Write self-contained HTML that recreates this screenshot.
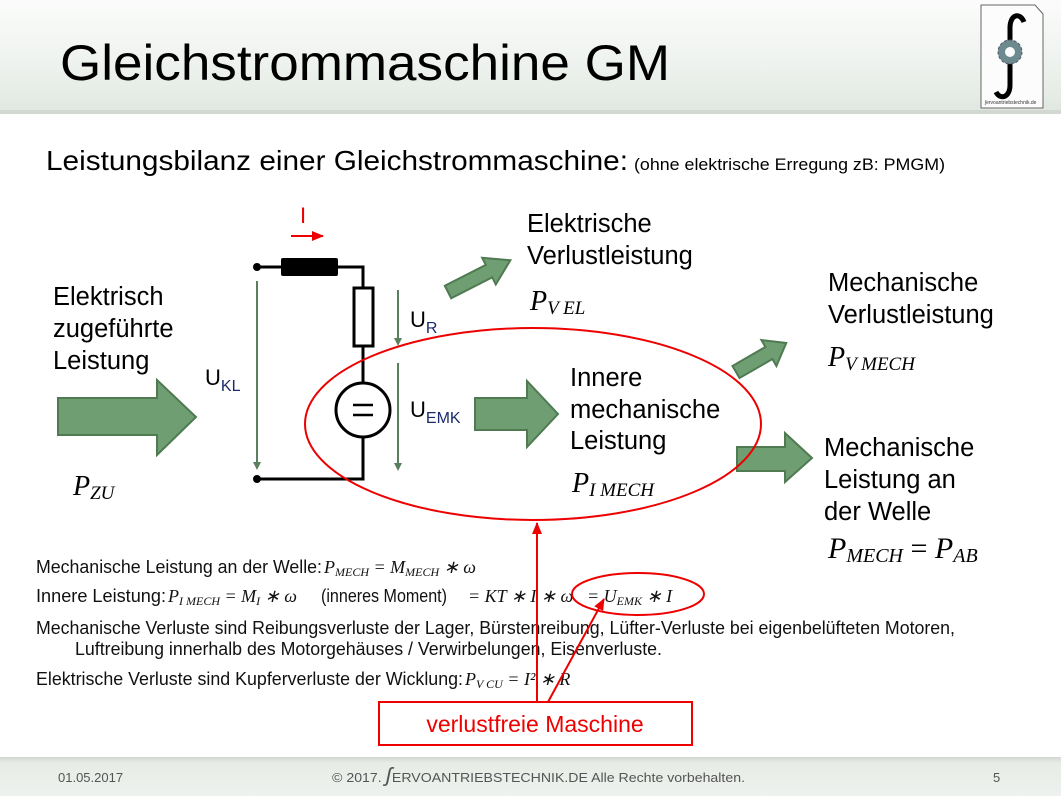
<!DOCTYPE html>
<html><head><meta charset="utf-8"><style>
body{margin:0;width:1061px;height:796px;overflow:hidden;background:#fff;font-family:"Liberation Sans",sans-serif}
</style></head><body>
<svg width="1061" height="796" viewBox="0 0 1061 796" xmlns="http://www.w3.org/2000/svg" font-family="Liberation Sans, sans-serif">
<defs>
<linearGradient id="hd" x1="0" y1="0" x2="0" y2="1"><stop offset="0" stop-color="#fbfcfb"/><stop offset="0.6" stop-color="#eef2ee"/><stop offset="1" stop-color="#e1e8e1"/></linearGradient>
<linearGradient id="ft" x1="0" y1="0" x2="0" y2="1"><stop offset="0" stop-color="#d0d6d0"/><stop offset="0.15" stop-color="#e7ece7"/><stop offset="1" stop-color="#eef2ee"/></linearGradient>
<marker id="ga" markerWidth="8" markerHeight="8" refX="6" refY="4" orient="auto" markerUnits="userSpaceOnUse"><path d="M0,0 L8,4 L0,8 z" fill="#5a7f5c"/></marker>
<marker id="ra" markerWidth="12" markerHeight="10" refX="11" refY="5" orient="auto" markerUnits="userSpaceOnUse"><path d="M0,0 L12,5 L0,10 z" fill="#e00"/></marker>
</defs>
<rect x="0" y="0" width="1061" height="110" fill="url(#hd)"/>
<rect x="0" y="110" width="1061" height="4" fill="#d3d8d3"/>
<rect x="0" y="757" width="1061" height="39" fill="url(#ft)"/>
<text x="60" y="80" font-size="50" fill="#000" textLength="610" lengthAdjust="spacingAndGlyphs">Gleichstrommaschine GM</text>
<!-- logo -->
<path d="M981,5 L1035,5 L1043,14 L1043,108 L981,108 z" fill="#fbfcfb" stroke="#666" stroke-width="1"/>
<path d="M1024,22 C1020,12 1010,14 1010,28 L1010,85 C1010,98 1000,100 996,92" fill="none" stroke="#000" stroke-width="5"/>
<circle cx="1010" cy="52" r="12" fill="#6d8a8f" stroke="#556" stroke-width="1" stroke-dasharray="3,2"/>
<circle cx="1010" cy="52" r="5" fill="#fbfcfb"/>
<text x="985" y="104" font-size="5" fill="#333">ʃervoantriebstechnik.de</text>

<text x="46" y="170" font-size="28" fill="#000" textLength="582" lengthAdjust="spacingAndGlyphs">Leistungsbilanz einer Gleichstrommaschine:</text>
<text x="634" y="170" font-size="17" fill="#000" textLength="311" lengthAdjust="spacingAndGlyphs">(ohne elektrische Erregung zB: PMGM)</text>

<!-- big left arrow -->
<polygon points="58,398 157,398 157,380 196,417 157,455 157,435 58,435" fill="#6e9e72" stroke="#4f7a52" stroke-width="2"/>
<text font-size="25.5" fill="#000"><tspan x="53" y="305">Elektrisch</tspan><tspan x="53" y="337">zugeführte</tspan><tspan x="53" y="369">Leistung</tspan></text>
<text x="73" y="495" font-size="28" font-style="italic" font-family="Liberation Serif, serif">P<tspan font-size="19" dy="4">ZU</tspan></text>

<!-- circuit -->
<g stroke="#000" stroke-width="3" fill="none">
<path d="M257,267 L281,267 M338,267 L363,267 L363,288 M363,346 L363,383 M363,437 L363,479 L257,479"/>
<rect x="354" y="288" width="19" height="58" fill="#fff"/>
<circle cx="363" cy="410" r="27" fill="#fff"/>
<path d="M353,405 L373,405 M353,415 L373,415" stroke-width="2.5"/>
</g>
<rect x="281" y="258" width="57" height="18" rx="2" fill="#000"/>
<circle cx="257" cy="267" r="4" fill="#000"/><circle cx="257" cy="479" r="4" fill="#000"/>
<g stroke="#5a7f5c" stroke-width="2" marker-end="url(#ga)">
<line x1="257" y1="281" x2="257" y2="468"/>
<line x1="398" y1="290" x2="398" y2="344"/>
<line x1="398" y1="363" x2="398" y2="469"/>
</g>
<text x="300" y="223" font-size="22" fill="#e00">I</text>
<line x1="291" y1="236" x2="323" y2="236" stroke="#e00" stroke-width="2" marker-end="url(#ra)"/>
<text x="205" y="385" font-size="22">U<tspan font-size="16" dy="6" fill="#1a2a6c">KL</tspan></text>
<text x="410" y="327" font-size="22">U<tspan font-size="16" dy="6" fill="#1a2a6c">R</tspan></text>
<text x="410" y="417" font-size="22">U<tspan font-size="16" dy="6" fill="#1a2a6c">EMK</tspan></text>

<!-- other arrows -->
<g transform="translate(448,292) rotate(-27)"><polygon points="0,-7 46,-7 46,-15 70,0 46,15 46,7 0,7" fill="#6e9e72" stroke="#4f7a52" stroke-width="2"/></g>
<polygon points="475,398 527,398 527,381 558,414 527,447 527,430 475,430" fill="#6e9e72" stroke="#4f7a52" stroke-width="2"/>
<g transform="translate(736,372) rotate(-30)"><polygon points="0,-7 38,-7 38,-15 58,0 38,15 38,7 0,7" fill="#6e9e72" stroke="#4f7a52" stroke-width="2"/></g>
<polygon points="737,447 785,447 785,433 812,458 785,482 785,471 737,471" fill="#6e9e72" stroke="#4f7a52" stroke-width="2"/>

<text font-size="25.5"><tspan x="527" y="232">Elektrische</tspan><tspan x="527" y="264">Verlustleistung</tspan></text>
<text x="530" y="310" font-size="28" font-style="italic" font-family="Liberation Serif, serif">P<tspan font-size="19" dy="4">V EL</tspan></text>
<text font-size="25.5"><tspan x="570" y="386">Innere</tspan><tspan x="570" y="418">mechanische</tspan><tspan x="570" y="449">Leistung</tspan></text>
<text x="572" y="492" font-size="28" font-style="italic" font-family="Liberation Serif, serif">P<tspan font-size="19" dy="4">I MECH</tspan></text>
<text font-size="25.5"><tspan x="828" y="291">Mechanische</tspan><tspan x="828" y="323">Verlustleistung</tspan></text>
<text x="828" y="366" font-size="28" font-style="italic" font-family="Liberation Serif, serif">P<tspan font-size="19" dy="4">V MECH</tspan></text>
<text font-size="25.5"><tspan x="824" y="456">Mechanische</tspan><tspan x="824" y="488">Leistung an</tspan><tspan x="824" y="520">der Welle</tspan></text>
<text x="828" y="558" font-size="30" font-style="italic" font-family="Liberation Serif, serif">P<tspan font-size="20" dy="4">MECH</tspan><tspan dy="-4" font-style="normal"> = </tspan>P<tspan font-size="20" dy="4">AB</tspan></text>

<ellipse cx="533" cy="424" rx="228" ry="96" fill="none" stroke="#e00" stroke-width="2"/>

<!-- formulas -->
<g font-size="18" fill="#111">
<text x="36" y="573" textLength="286" lengthAdjust="spacingAndGlyphs">Mechanische Leistung an der Welle:</text>
<text x="324" y="573" font-family="Liberation Serif, serif" font-style="italic" font-size="18">P<tspan font-size="12" dy="3">MECH</tspan><tspan dy="-3"> = M</tspan><tspan font-size="12" dy="3">MECH</tspan><tspan dy="-3"> ∗ ω</tspan></text>
<text x="36" y="602" textLength="130" lengthAdjust="spacingAndGlyphs">Innere Leistung:</text>
<text x="168" y="602" font-family="Liberation Serif, serif" font-style="italic" font-size="18">P<tspan font-size="12" dy="3">I MECH</tspan><tspan dy="-3"> = M</tspan><tspan font-size="12" dy="3">I</tspan><tspan dy="-3"> ∗ ω</tspan></text>
<text x="321" y="602" textLength="126" lengthAdjust="spacingAndGlyphs">(inneres Moment)</text>
<text x="468" y="602" font-family="Liberation Serif, serif" font-style="italic" font-size="18">= KT ∗ I ∗ ω</text>
<text x="587" y="602" font-family="Liberation Serif, serif" font-style="italic" font-size="18">= U<tspan font-size="12" dy="3">EMK</tspan><tspan dy="-3"> ∗ I</tspan></text>
<text x="36" y="634" textLength="919" lengthAdjust="spacingAndGlyphs">Mechanische Verluste sind Reibungsverluste der Lager, Bürstenreibung, Lüfter-Verluste bei eigenbelüfteten Motoren,</text>
<text x="75" y="655" textLength="587" lengthAdjust="spacingAndGlyphs">Luftreibung innerhalb des Motorgehäuses / Verwirbelungen, Eisenverluste.</text>
<text x="36" y="685" textLength="427" lengthAdjust="spacingAndGlyphs">Elektrische Verluste sind Kupferverluste der Wicklung:</text>
<text x="465" y="685" font-family="Liberation Serif, serif" font-style="italic" font-size="18">P<tspan font-size="12" dy="3">V CU</tspan><tspan dy="-3"> =  I² ∗ R</tspan></text>
</g>
<ellipse cx="638" cy="594" rx="66" ry="21" fill="none" stroke="#e00" stroke-width="2"/>
<line x1="537" y1="702" x2="537" y2="523" stroke="#e00" stroke-width="2" marker-end="url(#ra)"/>
<line x1="548" y1="702" x2="604" y2="599" stroke="#e00" stroke-width="2" marker-end="url(#ra)"/>
<rect x="379" y="702" width="313" height="43" fill="#fff" stroke="#e00" stroke-width="2"/>
<text x="535" y="732" font-size="23" fill="#e00" text-anchor="middle">verlustfreie Maschine</text>

<!-- footer -->
<g font-size="13" fill="#555">
<text x="58" y="782">01.05.2017</text>
<text x="332" y="782" textLength="413" lengthAdjust="spacingAndGlyphs">© 2017. <tspan font-size="20" font-style="italic">ʃ</tspan>ERVOANTRIEBSTECHNIK.DE   Alle Rechte vorbehalten.</text>
<text x="993" y="782">5</text>
</g>
</svg>
</body></html>
